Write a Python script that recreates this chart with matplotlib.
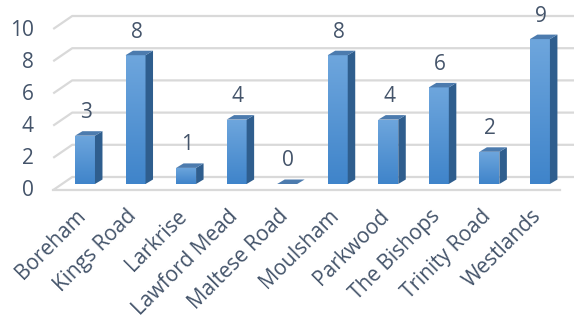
import numpy as np
import matplotlib
matplotlib.use("Agg")
import matplotlib.pyplot as plt
from matplotlib.patches import Polygon, Rectangle
from matplotlib.colors import LinearSegmentedColormap

categories = ["Boreham", "Kings Road", "Larkrise", "Lawford Mead", "Maltese Road",
              "Moulsham", "Parkwood", "The Bishops", "Trinity Road", "Westlands"]
values = [3, 8, 1, 4, 0, 8, 4, 6, 2, 9]
yticks = [0, 2, 4, 6, 8, 10]

TEXT = "#44546A"
GRID = "#D9D9D9"
plt.rcParams['font.family'] = ['Open Sans', 'DejaVu Sans']
FS = 15

W, H, DPI = 574, 320, 100
fig = plt.figure(figsize=(W / DPI, H / DPI), dpi=DPI)
L, R = 59.7, 565.2
y0px, y10px = 184.0, 23.0
ax = fig.add_axes([L / W, (H - y0px) / H, (R - L) / W, (y0px - y10px) / H])
ax.set_xlim(-0.5, len(categories) - 0.5)
ax.set_ylim(0, 10)
ax.axis("off")

px = (len(categories)) / (R - L)       # data units per pixel (x)
py = 10 / (y0px - y10px)                # data units per pixel (y)

# plane offsets relative to the bar plane (pixels)
fdx, fdy = -8, -6      # front plane
bdx, bdy = 11, 7       # back plane

# gridlines: slanted part on the left, then horizontal along back wall
xl = -0.47
xr = 9.9
for v in yticks:
    xs = [xl + fdx * px, xl + bdx * px, xr + bdx * px]
    ys = [v + fdy * py, v + bdy * py, v + bdy * py]
    ax.plot(xs, ys, color=GRID, lw=1.6, clip_on=False, zorder=1,
            solid_capstyle="butt")
# floor front edge
ax.plot([xl + fdx * px, 9.55 + fdx * px],
        [fdy * py, fdy * py], color=GRID, lw=1.6, clip_on=False, zorder=1)

# bars
bw = 20 * px
sdx, sdy = 7.5 * px, 4.5 * py
cmap = LinearSegmentedColormap.from_list("b", ["#3F84CA", "#6EA6DD"])
grad = np.linspace(0, 1, 256).reshape(-1, 1)
for i, v in enumerate(values):
    x0, x1 = i - bw / 2, i + bw / 2
    if v > 0:
        rect = Rectangle((x0, 0), bw, v, facecolor="none", edgecolor="none")
        ax.add_patch(rect)
        im = ax.imshow(grad, extent=[x0, x1, 0, v], origin="lower", aspect="auto",
                       cmap=cmap, zorder=3, interpolation="bilinear")
        im.set_clip_path(rect)
        side = Polygon([(x1, 0), (x1 + sdx, sdy), (x1 + sdx, v + sdy), (x1, v)],
                       closed=True, facecolor="#2F5E8E", edgecolor="none", zorder=3)
        ax.add_patch(side)
    top = Polygon([(x0, v), (x0 + sdx, v + sdy), (x1 + sdx, v + sdy), (x1, v)],
                  closed=True, facecolor="#4C7BAE", edgecolor="none", zorder=4)
    ax.add_patch(top)
    ax.annotate(str(v), xy=(i, v), xytext=(1, 23), textcoords="offset pixels",
                ha="center", va="center", color=TEXT, fontsize=FS)

ax.set_xlim(-0.5, len(categories) - 0.5)
ax.set_ylim(0, 10)

# y tick labels (on the front plane)
for v in yticks:
    ax.annotate(str(v), xy=(0, v), xycoords=("axes fraction", "data"),
                xytext=(-26, fdy - 1), textcoords="offset pixels",
                ha="right", va="center", color=TEXT, fontsize=FS)

# category labels
for i, c in enumerate(categories):
    ax.annotate(c, xy=(i, 0), xytext=(-2, -29), textcoords="offset pixels",
                ha="right", va="center", rotation=45, rotation_mode="anchor",
                color=TEXT, fontsize=FS, annotation_clip=False)

fig.savefig("out.png", dpi=DPI)
